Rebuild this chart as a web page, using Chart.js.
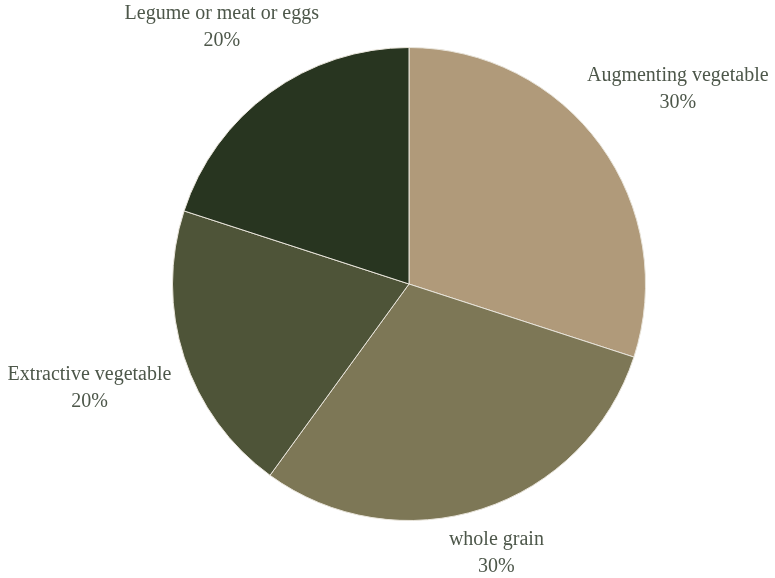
<!DOCTYPE html>
<html>
<head>
<meta charset="utf-8">
<script src="https://cdn.jsdelivr.net/npm/chart.js@4.4.1/dist/chart.umd.min.js"></script>
<style>
html,body{margin:0;padding:0;background:#fff;}
#wrap{width:775px;height:578px;position:relative;}
</style>
</head>
<body>
<div id="wrap"><canvas id="pie"></canvas></div>
<script>
const labels = ['Augmenting vegetable','whole grain','Extractive vegetable','Legume or meat or eggs'];
const shares = [30,30,20,20];
const colors = ['#b09a7a','#7d7756','#4e5438','#283520'];

// draws "name / pct" outside each slice, centred on the mid-angle ray
const outLabels = {
  id:'outLabels',
  afterDatasetsDraw(chart){
    const ctx = chart.ctx;
    const meta = chart.getDatasetMeta(0);
    const total = shares.reduce((a,b)=>a+b,0);
    ctx.save();
    ctx.font = '20px "Liberation Serif", "DejaVu Serif", serif';
    ctx.fillStyle = '#4d574a';
    ctx.textAlign = 'center';
    ctx.textBaseline = 'middle';
    meta.data.forEach((arc,i)=>{
      const p = arc.getProps(['x','y','startAngle','endAngle','outerRadius'],true);
      const mid = (p.startAngle+p.endAngle)/2;
      const dx = Math.cos(mid), dy = Math.sin(mid);
      const line1 = labels[i];
      const line2 = Math.round(shares[i]/total*100)+'%';
      const w = Math.max(ctx.measureText(line1).width, ctx.measureText(line2).width);
      const d = p.outerRadius + 34 + 0.84*Math.abs(dx)*w/2;
      const cx = p.x + dx*d;
      const cy = p.y + dy*d;
      ctx.fillText(line1, cx, cy-13);
      ctx.fillText(line2, cx, cy+14);
    });
    ctx.restore();
  }
};

new Chart(document.getElementById('pie'),{
  type:'pie',
  data:{labels:labels,datasets:[{
    data:shares,
    backgroundColor:colors,
    borderColor:'#e8e4da',
    borderWidth:1
  }]},
  options:{
    responsive:true,maintainAspectRatio:false,animation:false,
    layout:{padding:{left:60,right:17,top:47,bottom:57}},
    plugins:{legend:{display:false},tooltip:{enabled:false}}
  },
  plugins:[outLabels]
});
</script>
</body>
</html>
